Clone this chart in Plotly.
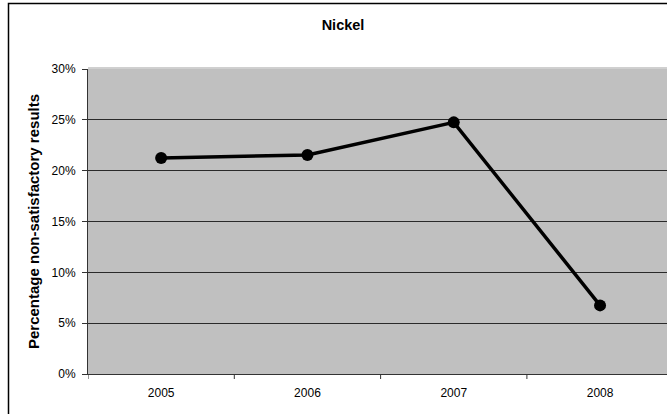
import plotly.graph_objects as go

years = ["2005", "2006", "2007", "2008"]
values = [0.2125, 0.2155, 0.2475, 0.0675]
y_ticks = [0, 0.05, 0.10, 0.15, 0.20, 0.25, 0.30]
y_tick_labels = ["0%", "5%", "10%", "15%", "20%", "25%", "30%"]

W, H = 667, 414
L, R, T, B = 88, 0, 69, 40
pw = W - L - R
ph = H - T - B
cat_px = 146.3

fig = go.Figure()
fig.add_trace(go.Scatter(
    x=list(range(len(years))), y=values, mode="lines+markers",
    line=dict(color="black", width=3.5),
    marker=dict(color="black", size=12),
    showlegend=False, cliponaxis=False,
))

font = "Arial, Liberation Sans, sans-serif"
fig.update_layout(
    width=W, height=H,
    margin=dict(l=L, r=R, t=T, b=B),
    paper_bgcolor="white",
    plot_bgcolor="#C0C0C0",
    font=dict(family=font, size=12, color="black"),
    title=dict(text="<b>Nickel</b>", x=343 / W, xanchor="center",
               y=1 - 25 / H, yanchor="middle",
               font=dict(family=font, size=14.5, color="black")),
    xaxis=dict(
        range=[-0.5, -0.5 + pw / cat_px],
        tickmode="array", tickvals=list(range(len(years))), ticktext=years,
        showgrid=False, zeroline=False,
        showline=True, linecolor="#333333", linewidth=1,
        ticks="", ticklen=0,
        tickfont=dict(family=font, size=12),
        ticklabelstandoff=8,
    ),
    yaxis=dict(
        range=[0, 0.30],
        tickmode="array", tickvals=y_ticks, ticktext=y_tick_labels,
        showgrid=True, gridcolor="#2a2a2a", gridwidth=1,
        zeroline=False,
        showline=True, linecolor="#333333", linewidth=1,
        ticks="outside", ticklen=5, tickcolor="#333333",
        tickfont=dict(family=font, size=12),
        ticklabelstandoff=4,
        title=dict(text="<b>Percentage non-satisfactory results</b>",
                   font=dict(family=font, size=15), standoff=8),
    ),
)

# category boundary tick marks on x axis
shapes = []
for i in range(len(years)):
    xb = i - 0.5
    shapes.append(dict(type="line", xref="x", yref="paper",
                       x0=xb, x1=xb, y0=0, y1=-5 / ph,
                       line=dict(color="#333333", width=1)))
# plot area top border (gray)
shapes.append(dict(type="line", xref="paper", yref="paper",
                   x0=0, x1=1, y0=1 + 1 / ph, y1=1 + 1 / ph,
                   line=dict(color="#A0A0A0", width=1)))
# outer chart border
shapes.append(dict(type="rect", xref="paper", yref="paper",
                   x0=(8.5 - L) / pw, x1=(W + 20 - L) / pw,
                   y0=-(H + 20 - (T + ph)) / ph, y1=(T + ph - 3.5) / ph,
                   line=dict(color="black", width=1.5)))
fig.update_layout(shapes=shapes)

fig.write_html("out.html", config={"displayModeBar": False},
               post_script="document.body.style.margin='0';document.body.style.overflow='hidden';")
